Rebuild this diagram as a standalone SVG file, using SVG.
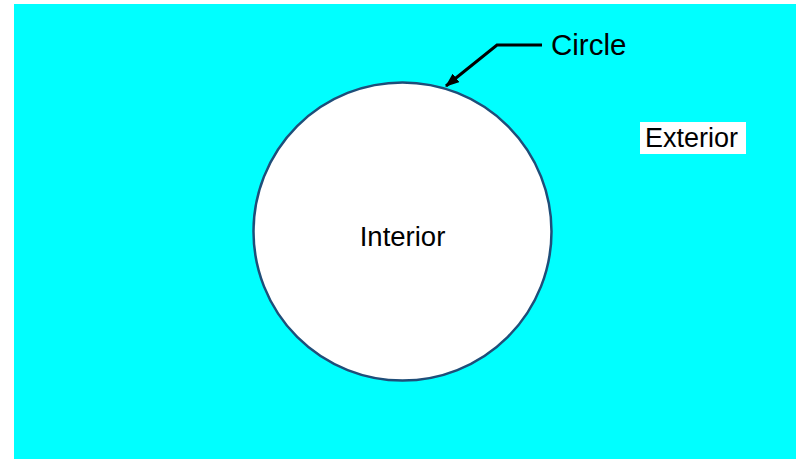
<svg xmlns="http://www.w3.org/2000/svg" width="800" height="459" viewBox="0 0 800 459">
<defs>
<style>
.t{font-family:"Liberation Sans",Arial,sans-serif;fill:#000}
</style>
<marker id="ah" markerWidth="14" markerHeight="11" refX="13" refY="5.5" orient="auto" markerUnits="userSpaceOnUse">
<path d="M0,0 L14,5.5 L0,11 z" fill="#000"/>
</marker>
</defs>
<rect x="0" y="0" width="800" height="459" fill="#fff"/>
<rect x="14" y="4" width="782" height="455" fill="#00ffff"/>
<g id="circle">
<circle cx="402.5" cy="231.5" r="149" fill="#fff" stroke="#1f4e79" stroke-width="2.5"/>
<text class="t" x="402.5" y="246" font-size="27.5" text-anchor="middle">Interior</text>
</g>
<g id="exterior">
<rect x="640" y="122" width="106" height="32" fill="#fff"/>
<text class="t" x="691.5" y="146.5" font-size="27" text-anchor="middle">Exterior</text>
</g>
<g id="circle-label">
<text class="t" x="551" y="55" font-size="29.5">Circle</text>
</g>
<g id="connectors">
<polyline points="542,45 497,45 446,86" fill="none" stroke="#000" stroke-width="3" marker-end="url(#ah)"/>
</g>
</svg>
